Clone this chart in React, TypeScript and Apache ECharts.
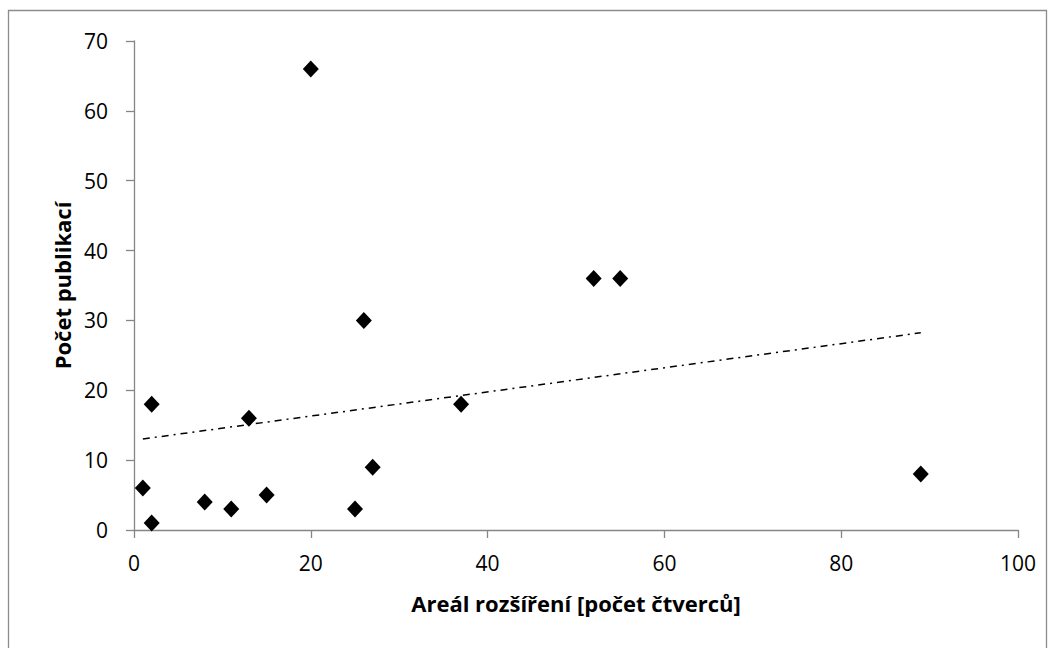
import React, { useEffect, useRef } from "react";
import * as echarts from "echarts";

const xValues = [1, 2, 2, 8, 11, 13, 15, 20, 25, 26, 27, 37, 52, 55, 89];
const yValues = [6, 18, 1, 4, 3, 16, 5, 66, 3, 30, 9, 18, 36, 36, 8];
const xTitle = "Areál rozšíření [počet čtverců]";
const yTitle = "Počet publikací";

function regression(xs: number[], ys: number[]) {
  const n = xs.length;
  const mx = xs.reduce((a, b) => a + b, 0) / n;
  const my = ys.reduce((a, b) => a + b, 0) / n;
  let sxy = 0, sxx = 0;
  for (let i = 0; i < n; i++) {
    sxy += (xs[i] - mx) * (ys[i] - my);
    sxx += (xs[i] - mx) * (xs[i] - mx);
  }
  const slope = sxy / sxx;
  return { slope, intercept: my - slope * mx };
}

export default function App() {
  const ref = useRef<HTMLDivElement>(null);
  useEffect(() => {
    if (!ref.current) return;
    const chart = echarts.init(ref.current, undefined, { renderer: "svg" });
    const { slope, intercept } = regression(xValues, yValues);
    const xmin = Math.min(...xValues);
    const xmax = Math.max(...xValues);
    const trend = [
      [xmin, intercept + slope * xmin],
      [xmax, intercept + slope * xmax],
    ];
    const font = "'Open Sans', 'Liberation Sans', sans-serif";
    const axisColor = "#868686";
    chart.setOption({
      animation: false,
      backgroundColor: "#ffffff",
      textStyle: { fontFamily: font },
      graphic: [
        {
          type: "rect",
          shape: { x: 8.5, y: 10.5, width: 1038, height: 660 },
          style: { fill: "none", stroke: "#8c8c8c", lineWidth: 1.3 },
          silent: true,
          z: -10,
        },
      ],
      grid: { left: 134, right: 37, top: 41, bottom: 118 },
      xAxis: {
        type: "value",
        min: 0,
        max: 100,
        interval: 20,
        splitLine: { show: false },
        axisLine: { show: true, onZero: false, lineStyle: { color: axisColor, width: 1.3 } },
        axisTick: { show: true, length: 8, lineStyle: { color: axisColor, width: 1.3 } },
        axisLabel: { color: "#000", fontSize: 21, margin: 22, fontFamily: font },
        name: xTitle,
        nameLocation: "middle",
        nameGap: 62,
        nameTextStyle: { color: "#000", fontSize: 22, fontWeight: "bold", fontFamily: font },
      },
      yAxis: {
        type: "value",
        min: 0,
        max: 70,
        interval: 10,
        splitLine: { show: false },
        axisLine: { show: true, onZero: false, lineStyle: { color: axisColor, width: 1.3 } },
        axisTick: { show: true, length: 8, lineStyle: { color: axisColor, width: 1.3 } },
        axisLabel: { color: "#000", fontSize: 21, margin: 26, fontFamily: font },
        name: yTitle,
        nameLocation: "middle",
        nameGap: 56,
        nameRotate: 90,
        nameTextStyle: { color: "#000", fontSize: 22, fontWeight: "bold", fontFamily: font },
      },
      series: [
        {
          type: "line",
          data: trend,
          symbol: "none",
          lineStyle: { color: "#000", width: 1.5, type: [7, 5, 2, 5] },
          z: 1,
        },
        {
          type: "scatter",
          data: xValues.map((x, i) => [x, yValues[i]]),
          symbol: "diamond",
          symbolSize: [16, 17],
          itemStyle: { color: "#000", opacity: 1 },
          z: 2,
        },
      ],
    });
    return () => chart.dispose();
  }, []);
  return <div ref={ref} style={{ width: 1055, height: 648, position: "absolute", left: 0, top: 0 }} />;
}
